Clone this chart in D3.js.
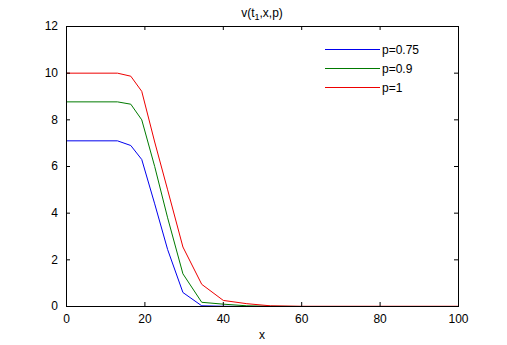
<!DOCTYPE html>
<html>
<head>
<meta charset="utf-8">
<script src="https://cdn.jsdelivr.net/npm/d3@7"></script>
<style>
  body { margin: 0; background: #fff; }
  text { font-family: "Liberation Sans", Arial, sans-serif; }
</style>
</head>
<body>
<div id="chart"></div>
<script>
// data
var xs = [0, 13, 16.4, 19.2, 22.5, 25.8, 29.7, 34.5, 40, 46, 52, 60, 100];
var p075 = [7.1, 7.1, 6.9, 6.3, 4.4, 2.44, 0.6, 0.03, 0.01, 0, 0, 0, 0];
var p09 = [8.77, 8.77, 8.67, 8.0, 6.0, 3.8, 1.4, 0.18, 0.1, 0.03, 0.01, 0, 0];
var p1 = [10, 10, 9.87, 9.22, 7.05, 5.0, 2.55, 0.95, 0.26, 0.12, 0.03, 0.01, 0.01];
var seriesNames = ['p=0.75', 'p=0.9', 'p=1'];
var xTicks = [0, 20, 40, 60, 80, 100];
var yTicks = [0, 2, 4, 6, 8, 10, 12];

var width = 507, height = 345;
var plotLeft = 66.5, plotRight = 458.5, plotTop = 26.5, plotBottom = 306.5;

var svg = d3.select('#chart')
    .append('svg')
    .attr('width', width)
    .attr('height', height);

var x = d3.scaleLinear().domain([0, 100]).range([plotLeft, plotRight]);
var y = d3.scaleLinear().domain([0, 12]).range([plotBottom, plotTop]);

var series = [
    {name: seriesNames[0], values: p075, color: '#0000ee'},
    {name: seriesNames[1], values: p09, color: '#007a00'},
    {name: seriesNames[2], values: p1, color: '#ee0000'}
];

var line = d3.line()
    .x((d) => x(d[0]))
    .y((d) => y(d[1]));

svg.append('g')
    .selectAll('path')
    .data(series)
    .enter()
    .append('path')
    .attr('d', (s) => line(xs.map((v, i) => [v, s.values[i]])))
    .attr('fill', 'none')
    .attr('stroke', (s) => s.color)
    .attr('stroke-width', 1);

// axes, MATLAB style: ticks inside, box all round
var xAxis = d3.axisBottom(x).tickValues(xTicks).tickSizeInner(-4).tickSizeOuter(0).tickPadding(8);
var yAxis = d3.axisLeft(y).tickValues(yTicks).tickSizeInner(-4).tickSizeOuter(0).tickPadding(8);
var xTop = d3.axisTop(x).tickValues(xTicks).tickSizeInner(-4).tickSizeOuter(0).tickFormat('');
var yRight = d3.axisRight(y).tickValues(yTicks).tickSizeInner(-4).tickSizeOuter(0).tickFormat('');

[
    [xAxis, 'translate(-0.5,' + (plotBottom - 0.5) + ')'],
    [yAxis, 'translate(' + (plotLeft - 0.5) + ',-0.5)'],
    [xTop, 'translate(-0.5,' + (plotTop - 0.5) + ')'],
    [yRight, 'translate(' + (plotRight - 0.5) + ',-0.5)']
].forEach((a) => {
    var g = svg.append('g').attr('transform', a[1]).call(a[0]);
    g.selectAll('text').attr('font-size', 12).attr('fill', '#000')
        .style('font-family', '"Liberation Sans", Arial, sans-serif');
    g.selectAll('line, path').attr('stroke', '#000');
});

svg.append('rect')
    .attr('x', plotLeft).attr('y', plotTop)
    .attr('width', plotRight - plotLeft).attr('height', plotBottom - plotTop)
    .attr('fill', 'none').attr('stroke', '#000');

// title
var title = svg.append('text')
    .attr('x', 262).attr('y', 16.5)
    .attr('text-anchor', 'middle')
    .attr('font-size', 12);
title.append('tspan').text('v(t');
title.append('tspan').attr('font-size', 9).attr('dy', 3).text('1');
title.append('tspan').attr('dy', -3).text(',x,p)');

// x label
svg.append('text')
    .attr('x', 262).attr('y', 339)
    .attr('text-anchor', 'middle')
    .attr('font-size', 12)
    .text('x');

// legend
var legend = svg.append('g')
    .selectAll('g')
    .data(series)
    .enter()
    .append('g')
    .attr('transform', (d, i) => 'translate(325,' + (49.5 + i * 19) + ')');

legend.append('line')
    .attr('x1', 0).attr('x2', 55)
    .attr('stroke', (d) => d.color);

legend.append('text')
    .attr('x', 57).attr('y', 4.5)
    .attr('font-size', 12)
    .text((d) => d.name);
</script>
</body>
</html>
